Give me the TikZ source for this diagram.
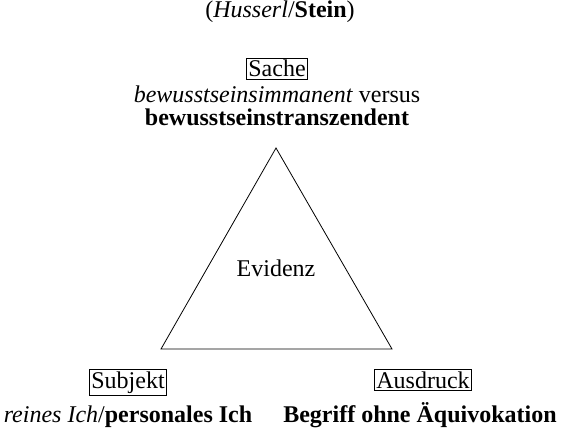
\documentclass[tikz,border=0pt]{standalone}
\usepackage{fontspec}
\setmainfont{Liberation Serif}
\begin{document}
\begin{tikzpicture}[x=1pt,y=-1pt,
        txt/.style={inner sep=0pt,anchor=base,font=\fontsize{24}{28}\selectfont},
        boxed/.style={txt,draw,line width=1.2pt,inner sep=2pt}]
    \useasboundingbox (0,0) rectangle (561,430);
	\node[txt] (title) at (280,18) {(\textit{Husserl}/\textbf{Stein})};

    \node[boxed] (sache) at (277,77) {Sache};
    \node[txt] (imman) at (277,103) {\textit{bewusstseinsimmanent} versus};
    \node[txt] (transz) at (277,126) {\textbf{bewusstseinstranszendent}};

    \coordinate (top) at (276,148);
    \coordinate (left) at (161,349);
    \coordinate (right) at (392,349);
\draw[line width=0.8pt] (top) -- (left) -- (right) -- cycle;
    \node[txt] (evidenz) at (276,276) {Evidenz};

	\node[boxed] (subjekt) at (128,388) {Subjekt};
	\node[txt] (ich) at (128,422) {\textit{reines Ich}/\textbf{personales Ich}};
	\node[boxed] (ausdruck) at (423,388) {Ausdruck};
	\node[txt] (begriff) at (420,422) {\textbf{Begriff ohne Äquivokation}};
\end{tikzpicture}
\end{document}
